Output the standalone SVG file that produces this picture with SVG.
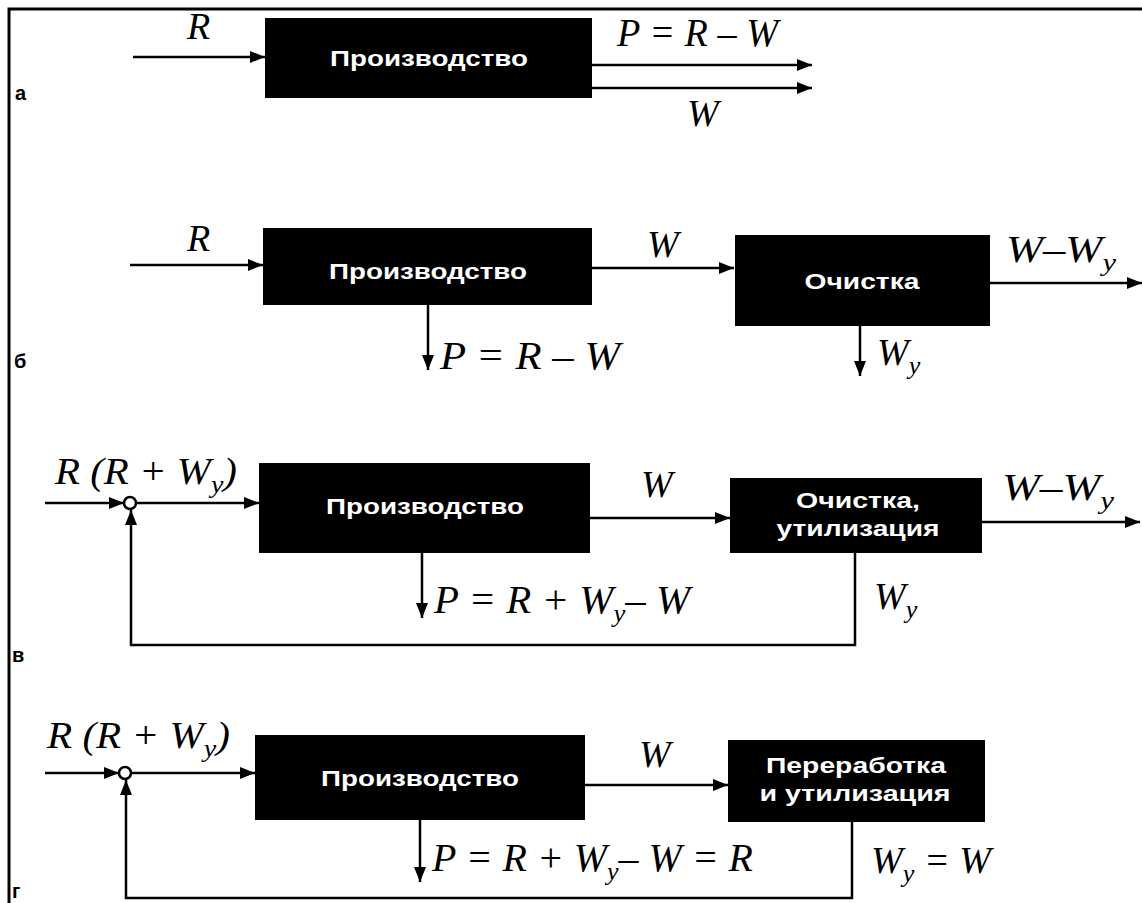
<svg xmlns="http://www.w3.org/2000/svg" width="1142" height="903" viewBox="0 0 1142 903">
<defs>
<marker id="ah" markerUnits="userSpaceOnUse" markerWidth="16" markerHeight="12" refX="15" refY="6" orient="auto">
<path d="M0,0 L15,6 L0,12 z" fill="#000"/>
</marker>
<style>
.box{fill:#000}
.bt{font-family:"Liberation Sans",Arial,sans-serif;font-weight:bold;font-size:22px;fill:#fff;text-anchor:middle}
.m{font-family:"Liberation Serif","Times New Roman",serif;font-style:italic;font-size:38px;fill:#000}
.f{font-size:40px}
.s{font-size:26px}
.lab{font-family:"Liberation Sans",Arial,sans-serif;font-weight:900;font-size:20px;fill:#000}
.c{stroke:#000;stroke-width:2.5;fill:none}
.a{stroke:#000;stroke-width:2.5;fill:none;marker-end:url(#ah)}
</style>
</defs>
<rect width="1142" height="903" fill="#fff"/>
<g id="frame" stroke="#000" stroke-width="3" fill="none">
<path d="M1142,9 L9,9 L9,903"/>
</g>

<g id="connectors">
<path class="a" d="M133,57 L265,57"/>
<path class="a" d="M592,65 L812,65"/>
<path class="a" d="M592,88 L812,88"/>
<path class="a" d="M130,265 L263,265"/>
<path class="a" d="M428,305 L428,370"/>
<path class="a" d="M592,268 L734,268"/>
<path class="a" d="M990,283 L1142,283"/>
<path class="a" d="M860,326 L860,376"/>
<path class="a" d="M45,503 L124,503"/>
<path class="a" d="M136,503 L259,503"/>
<path class="a" d="M422,553 L422,618"/>
<path class="a" d="M590,518 L730,518"/>
<path class="a" d="M982,522 L1140,522"/>
<path class="a" d="M855,553 L855,645 L131,645 L131,510"/>
<circle class="c" cx="130" cy="503" r="6"/>
<path class="a" d="M45,773 L119,773"/>
<path class="a" d="M131,773 L255,773"/>
<path class="a" d="M420,820 L420,882"/>
<path class="a" d="M585,785 L728,785"/>
<path class="a" d="M852,822 L852,898 L126,898 L126,780"/>
<circle class="c" cx="125" cy="773" r="6"/>
</g>

<g id="labels">
<text class="lab" x="15" y="100">а</text>
<text class="lab" x="14" y="368">б</text>
<text class="lab" x="12" y="662">в</text>
<text class="lab" x="12" y="898">г</text>
</g>

<g id="section-a">
<text class="m" x="187" y="39">R</text>
<g id="a-prod"><rect class="box" x="265" y="18" width="327" height="80"/><text class="bt" x="429" y="66" textLength="198" lengthAdjust="spacingAndGlyphs">Производство</text></g>
<text class="m f" x="617" y="46" textLength="161" lengthAdjust="spacingAndGlyphs">P = R – W</text>
<text class="m" x="687" y="126">W</text>
</g>

<g id="section-b">
<text class="m" x="187" y="251">R</text>
<g id="b-prod"><rect class="box" x="263" y="228" width="329" height="77"/><text class="bt" x="428" y="279" textLength="198" lengthAdjust="spacingAndGlyphs">Производство</text></g>
<text class="m f" x="440" y="369" textLength="180" lengthAdjust="spacingAndGlyphs">P = R – W</text>
<text class="m" x="647" y="257">W</text>
<g id="b-clean"><rect class="box" x="735" y="235" width="255" height="91"/><text class="bt" x="862" y="289" textLength="115" lengthAdjust="spacingAndGlyphs">Очистка</text></g>
<text class="m" x="1006" y="262" textLength="110" lengthAdjust="spacingAndGlyphs">W–W<tspan class="s" dy="9">y</tspan></text>
<text class="m" x="877" y="365">W<tspan class="s" dy="9">y</tspan></text>
</g>

<g id="section-v">
<text class="m" x="55" y="484" textLength="182" lengthAdjust="spacingAndGlyphs">R (R + W<tspan class="s" dy="9">y</tspan><tspan dy="-9">)</tspan></text>
<g id="v-prod"><rect class="box" x="259" y="463" width="331" height="90"/><text class="bt" x="425" y="514" textLength="198" lengthAdjust="spacingAndGlyphs">Производство</text></g>
<text class="m f" x="434" y="613" textLength="256" lengthAdjust="spacingAndGlyphs">P = R + W<tspan class="s" dy="9">y</tspan><tspan dy="-9">– W</tspan></text>
<text class="m" x="641" y="497">W</text>
<g id="v-clean"><rect class="box" x="730" y="478" width="252" height="75"/><text class="bt" x="858" y="508" textLength="124" lengthAdjust="spacingAndGlyphs">Очистка,</text><text class="bt" x="858" y="536" textLength="163" lengthAdjust="spacingAndGlyphs">утилизация</text></g>
<text class="m" x="1002" y="500" textLength="112" lengthAdjust="spacingAndGlyphs">W–W<tspan class="s" dy="9">y</tspan></text>
<text class="m" x="874" y="609">W<tspan class="s" dy="9">y</tspan></text>
</g>

<g id="section-g">
<text class="m" x="47" y="748" textLength="183" lengthAdjust="spacingAndGlyphs">R (R + W<tspan class="s" dy="9">y</tspan><tspan dy="-9">)</tspan></text>
<g id="g-prod"><rect class="box" x="255" y="735" width="330" height="85"/><text class="bt" x="420" y="786" textLength="198" lengthAdjust="spacingAndGlyphs">Производство</text></g>
<text class="m f" x="432" y="871" textLength="321" lengthAdjust="spacingAndGlyphs">P = R + W<tspan class="s" dy="9">y</tspan><tspan dy="-9">– W = R</tspan></text>
<text class="m" x="639" y="767">W</text>
<g id="g-proc"><rect class="box" x="728" y="740" width="257" height="82"/><text class="bt" x="856" y="773" textLength="180" lengthAdjust="spacingAndGlyphs">Переработка</text><text class="bt" x="855" y="801" textLength="191" lengthAdjust="spacingAndGlyphs">и утилизация</text></g>
<text class="m" x="871" y="873" textLength="120" lengthAdjust="spacingAndGlyphs">W<tspan class="s" dy="9">y</tspan><tspan dy="-9"> = W</tspan></text>
</g>
</svg>
